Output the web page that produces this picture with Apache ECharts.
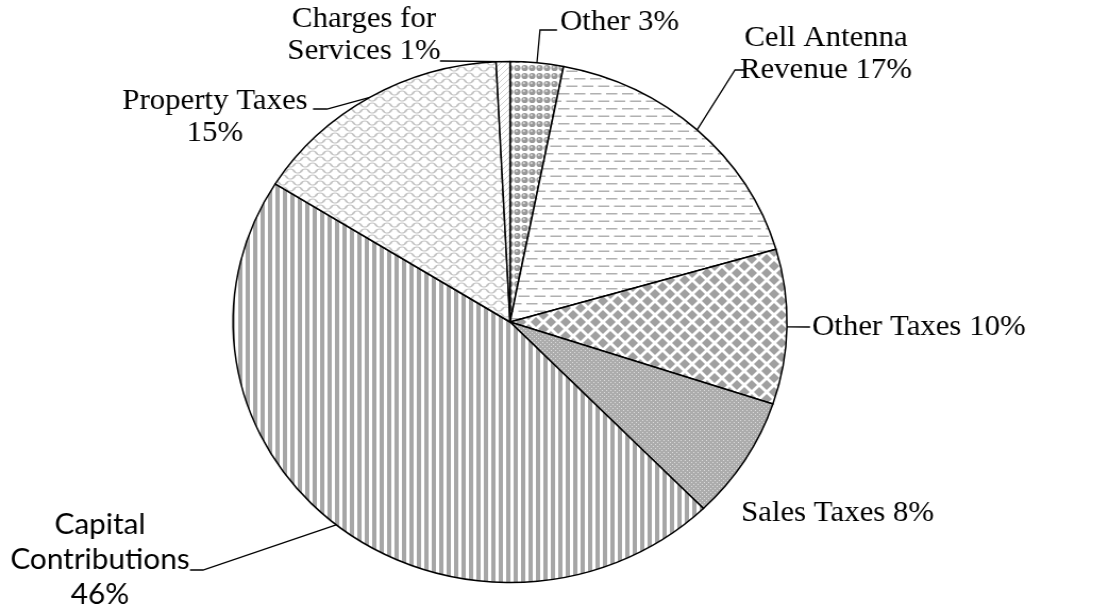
<!DOCTYPE html>
<html>
<head>
<meta charset="utf-8">
<script src="https://cdn.jsdelivr.net/npm/echarts@6/dist/echarts.min.js"></script>
<style>
html,body{margin:0;padding:0;background:#fff;overflow:hidden;}
#wrap{width:1094px;height:609px;overflow:hidden;position:relative;}
#chart{width:1029px;height:609px;transform:scaleX(1.0633);transform-origin:0 0;}
</style>
</head>
<body>
<div id="wrap"><div id="chart"></div></div>
<script>
// ---- data ----
const categories = ['Other', 'Cell Antenna\nRevenue', 'Other Taxes', 'Sales Taxes', 'Capital\nContributions', 'Property Taxes', 'Charges for\nServices'];
const values = [3.1, 17.4, 9.6, 7.6, 46.2, 15.3, 0.8];
const percentSeparators = [' ', ' ', ' ', ' ', '\n', '\n', ' '];

// ---- style: horizontal stretch of the figure and label placement (final pixels) ----
const SX = 1.0633;
const labelPlacement = [
  { x: 560, y: 22, align: 'left', elbow: [540, 30], end: [557, 30] },
  { x: 826, y: 54, align: 'center', elbow: [735, 70], end: [746, 70] },
  { x: 812, y: 327, align: 'left', elbow: [809, 327], end: [810, 327] },
  { x: 741, y: 513, align: 'left', noLine: true },
  { x: 100, y: 560, align: 'center', elbow: [203, 570], end: [190, 570] },
  { x: 215, y: 117, align: 'center', elbow: [327, 109], end: [313, 109] },
  { x: 364, y: 35, align: 'center', elbow: [442, 61], end: [440, 61] }
];
const sx = v => v / SX;

const GRAY = '#a6a6a6';
function tile(w, h, draw) {
  const c = document.createElement('canvas');
  c.width = w; c.height = h;
  const g = c.getContext('2d');
  g.fillStyle = '#fff'; g.fillRect(0, 0, w, h);
  draw(g);
  return { image: c, repeat: 'repeat' };
}
const patterns = [
  // Other: balls
  tile(7, 8, g => {
    g.fillStyle = '#999';
    g.beginPath(); g.arc(3.5, 4, 3.1, 0, Math.PI * 2); g.fill();
    g.fillStyle = '#d4d4d4';
    g.beginPath(); g.arc(2.8, 3.2, 1.1, 0, Math.PI * 2); g.fill();
  }),
  // Cell antenna: dashes
  tile(15, 15, g => {
    g.fillStyle = '#b0b0b0';
    g.fillRect(0, 3, 10.5, 1.5);
    g.fillRect(7.5, 10.5, 7.5, 1.5);
    g.fillRect(0, 10.5, 3, 1.5);
  }),
  // Other taxes: diamonds
  tile(14, 14, g => {
    g.fillStyle = '#a0a0a0';
    const r = 5;
    const d = (cx, cy) => { g.beginPath(); g.moveTo(cx, cy - r); g.lineTo(cx + r, cy); g.lineTo(cx, cy + r); g.lineTo(cx - r, cy); g.closePath(); g.fill(); };
    d(7, 7); d(0, 0); d(14, 0); d(0, 14); d(14, 14);
  }),
  // Sales: fine grid
  tile(4, 4, g => {
    g.fillStyle = '#acacac'; g.fillRect(0, 0, 4, 4);
    g.fillStyle = '#dcdcdc'; g.fillRect(0, 0, 1, 1); g.fillRect(2, 2, 1, 1);
  }),
  // Capital: vertical stripes
  tile(14, 10, g => {
    g.fillStyle = GRAY;
    g.fillRect(0, 0, 4, 10);
    g.fillRect(7, 0, 4, 10);
  }),
  // Property: scale / shingle outline
  tile(14, 12, g => {
    g.strokeStyle = '#c4c4c4'; g.lineWidth = 1.2;
    g.beginPath(); g.arc(7, 6, 5, Math.PI * 0.1, Math.PI * 0.9); g.stroke();
    g.beginPath(); g.arc(0, 12, 5, Math.PI * 1.1, Math.PI * 1.9); g.stroke();
    g.beginPath(); g.arc(14, 12, 5, Math.PI * 1.1, Math.PI * 1.9); g.stroke();
    g.beginPath(); g.arc(0, 0, 5, Math.PI * 0.1, Math.PI * 0.9); g.stroke();
    g.beginPath(); g.arc(14, 0, 5, Math.PI * 0.1, Math.PI * 0.9); g.stroke();
    g.beginPath(); g.arc(7, 6, 5, Math.PI * 1.1, Math.PI * 1.9); g.stroke();
  }),
  // Charges: light hatch
  tile(6, 6, g => {
    g.strokeStyle = '#cfcfcf'; g.lineWidth = 1;
    g.beginPath(); g.moveTo(0, 6); g.lineTo(6, 0); g.stroke();
  })
];

const data = categories.map((name, i) => {
  const item = { name: name, value: values[i], itemStyle: { color: patterns[i] } };
  if (i === 4) item.label = { fontFamily: 'Lato', fontSize: 28, lineHeight: 35 };
  if (labelPlacement[i].noLine) item.labelLine = { show: false };
  return item;
});

const chart = echarts.init(document.getElementById('chart'), null, { renderer: 'canvas', width: 1029, height: 609 });
chart.setOption({
  backgroundColor: '#fff',
  animation: false,
  series: [{
    type: 'pie',
    center: [sx(510), 322],
    radius: 260.5,
    startAngle: 90,
    clockwise: true,
    percentPrecision: 0,
    avoidLabelOverlap: false,
    data: data,
    itemStyle: { borderColor: '#000', borderWidth: 1.5 },
    label: {
      show: true,
      position: 'outside',
      color: '#000',
      fontFamily: 'Liberation Serif',
      fontSize: 29,
      lineHeight: 32,
      formatter: p => p.name + percentSeparators[p.dataIndex] + p.percent + '%'
    },
    labelLine: { show: true, length: 10, length2: 10, smooth: false, lineStyle: { color: '#000', width: 1.3 } },
    labelLayout: function (params) {
      const c = labelPlacement[params.dataIndex];
      const res = { x: sx(c.x), y: c.y, align: c.align, verticalAlign: 'middle' };
      if (!c.noLine && params.labelLinePoints) {
        const p0 = params.labelLinePoints[0];
        res.labelLinePoints = [[p0[0], p0[1]], [sx(c.elbow[0]), c.elbow[1]], [sx(c.end[0]), c.end[1]]];
      }
      return res;
    },
    emphasis: { disabled: true }
  }]
});
</script>
</body>
</html>
